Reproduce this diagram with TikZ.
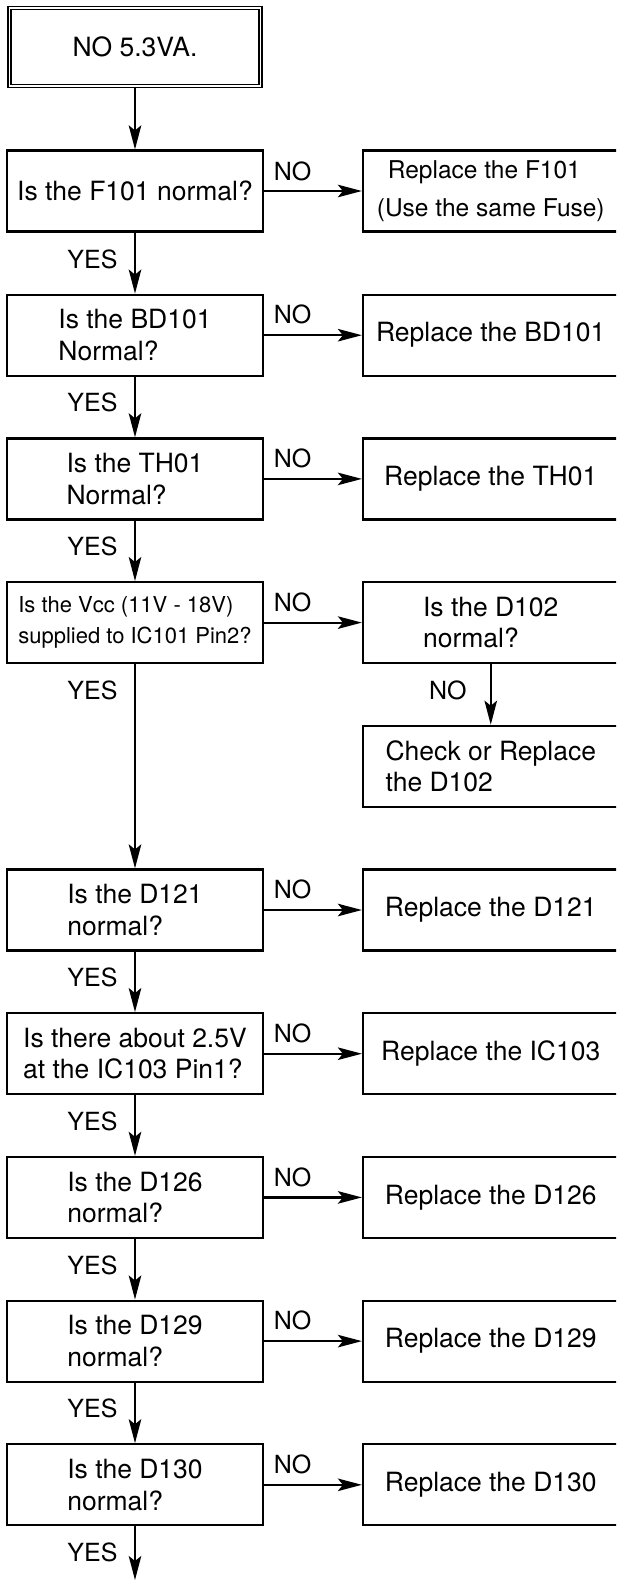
\documentclass[tikz,border=0pt]{standalone}
\usepackage{fontspec}
\setmainfont{TeX Gyre Heros}
\usetikzlibrary{arrows.meta}
\begin{document}
\begin{tikzpicture}[x=1pt,y=-1pt,
  box/.style={draw, line width=2.2pt, inner sep=0pt, minimum width=255.5pt,
    minimum height=81pt, align=left, font=\fontsize{26.5}{31.5}\selectfont},
  startbox/.style={draw, double, line width=1.3pt, double distance=1.6pt,
    inner sep=0pt, minimum width=251pt, minimum height=78pt,
    font=\fontsize{26.5}{31.5}\selectfont},
  flow/.style={line width=2.2pt, -{Stealth[length=24pt,width=12.5pt,inset=5pt]}},
  lbl/.style={font=\fontsize{25}{30}\selectfont, inner sep=0pt},
]
\useasboundingbox (0,0) rectangle (616,1580);
\clip (0,0) rectangle (616,1580);

% start box
\node[startbox] (start) at (135,47) {NO 5.3VA.};

% question column (left) and action column (right)
\node[box] (q1) at (135,191) {Is the F101 normal?};
\node[box, font=\fontsize{24.5}{38}\selectfont] (r1) at (490.75,191)
  {\hspace*{11pt}Replace the F101\\(Use the same Fuse)};

\node[box] (q2) at (135,335.2) {Is the BD101\\Normal?};
\node[box] (r2) at (490.75,335.2) {Replace the BD101};

\node[box] (q3) at (135,478.9) {Is the TH01\\Normal?};
\node[box] (r3) at (490.75,478.9) {Replace the TH01};

\node[box, font=\fontsize{22}{30.5}\selectfont] (q4) at (135,622.6)
  {Is the Vcc (11V - 18V)\\supplied to IC101 Pin2?};
\node[box] (r4) at (490.75,622.6) {Is the D102\\normal?};
\node[box] (r4b) at (490.75,766.3) {Check or Replace\\the D102};

\node[box] (q5) at (135,910) {Is the D121\\normal?};
\node[box] (r5) at (490.75,910) {Replace the D121};

\node[box] (q6) at (135,1053.7) {Is there about 2.5V\\at the IC103 Pin1?};
\node[box] (r6) at (490.75,1053.7) {Replace the IC103};

\node[box] (q7) at (135,1197.4) {Is the D126\\normal?};
\node[box] (r7) at (490.75,1197.4) {Replace the D126};

\node[box] (q8) at (135,1341.1) {Is the D129\\normal?};
\node[box] (r8) at (490.75,1341.1) {Replace the D129};

\node[box] (q9) at (135,1484.8) {Is the D130\\normal?};
\node[box] (r9) at (490.75,1484.8) {Replace the D130};

\coordinate (exit) at (135,1580);

% YES path down the left column
\draw[flow] (start.south) -- (q1.north);
\draw[flow] (q1.south) -- (q2.north);
\draw[flow] (q2.south) -- (q3.north);
\draw[flow] (q3.south) -- (q4.north);
\draw[flow] (q4.south) -- (q5.north);
\draw[flow] (q5.south) -- (q6.north);
\draw[flow] (q6.south) -- (q7.north);
\draw[flow] (q7.south) -- (q8.north);
\draw[flow] (q8.south) -- (q9.north);
\draw[flow] (q9.south) -- (exit);

% NO branches to the right
\draw[flow] (q1.east) -- (r1.west);
\draw[flow] (q2.east) -- (r2.west);
\draw[flow] (q3.east) -- (r3.west);
\draw[flow] (q4.east) -- (r4.west);
\draw[flow] (r4.south) -- (r4b.north);
\draw[flow] (q5.east) -- (r5.west);
\draw[flow] (q6.east) -- (r6.west);
\draw[flow] (q7.east) -- (r7.west);
\draw[flow] (q8.east) -- (r8.west);
\draw[flow] (q9.east) -- (r9.west);

% connector labels
\node[lbl] (no1) at (292.5,171) {NO};
\node[lbl] (no2) at (292.5,314.7) {NO};
\node[lbl] (no3) at (292.5,458.4) {NO};
\node[lbl] (no4) at (292.5,602.1) {NO};
\node[lbl] (no4b) at (447.8,690.1) {NO};
\node[lbl] (no5) at (292.5,889.5) {NO};
\node[lbl] (no6) at (292.5,1033.2) {NO};
\node[lbl] (no7) at (292.5,1176.9) {NO};
\node[lbl] (no8) at (292.5,1320.6) {NO};
\node[lbl] (no9) at (292.5,1464.3) {NO};

\node[lbl] (yes1) at (92.5,259) {YES};
\node[lbl] (yes2) at (92.5,402.7) {YES};
\node[lbl] (yes3) at (92.5,546.4) {YES};
\node[lbl] (yes4) at (92.5,690.1) {YES};
\node[lbl] (yes5) at (92.5,977.5) {YES};
\node[lbl] (yes6) at (92.5,1121.2) {YES};
\node[lbl] (yes7) at (92.5,1264.9) {YES};
\node[lbl] (yes8) at (92.5,1408.6) {YES};
\node[lbl] (yes9) at (92.5,1552.3) {YES};
\end{tikzpicture}
\end{document}
